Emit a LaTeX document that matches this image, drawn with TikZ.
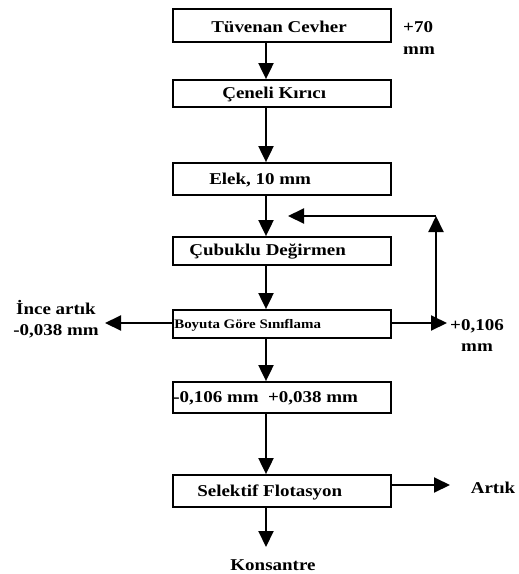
\documentclass[tikz,border=0pt]{standalone}
\usepackage{fontspec}
\setmainfont{Liberation Serif}[FakeStretch=1.15]
\usetikzlibrary{arrows.meta}
\begin{document}
\begin{tikzpicture}[x=1pt,y=-1pt,
  box/.style={draw, line width=1.8pt, minimum width=218pt, inner sep=0pt},
  txt/.style={inner sep=0pt, font=\fontsize{16.5}{19}\selectfont\bfseries},
  smalltxt/.style={inner sep=0pt, font=\fontsize{13}{15}\selectfont\bfseries},
  arr/.style={line width=2pt, -{Triangle[length=16pt,width=15pt]}},
  ln/.style={line width=2pt}]
\useasboundingbox (0,0) rectangle (519,574);
\coordinate (cx) at (266,0);
% boxes
\node[box, minimum height=33pt] (b1) at (282,25.5) {};
\node[box, minimum height=27pt] (b2) at (282,93.5) {};
\node[box, minimum height=32pt] (b3) at (282,179) {};
\node[box, minimum height=28pt] (b4) at (282,251) {};
\node[box, minimum height=28pt] (b5) at (282,324) {};
\node[box, minimum height=31pt] (b6) at (282,397.5) {};
\node[box, minimum height=32pt] (b7) at (282,491) {};
% box texts
\node[txt, anchor=west] (t1) at ([xshift=39pt,yshift=-1pt]b1.west) {Tüvenan Cevher};
\node[txt, anchor=west] (t2) at ([xshift=50pt,yshift=-1pt]b2.west) {Çeneli Kırıcı};
\node[txt, anchor=west] (t3) at ([xshift=37pt,yshift=-1pt]b3.west) {Elek, 10 mm};
\node[txt, anchor=west] (t4) at ([xshift=17pt,yshift=-1pt]b4.west) {Çubuklu Değirmen};
\node[smalltxt, anchor=west] (t5) at ([xshift=2pt,yshift=-1pt]b5.west) {Boyuta Göre Sınıflama};
\node[txt, anchor=west] (t6) at ([xshift=1pt,yshift=-1pt]b6.west) {-0,106 mm\ \ +0,038 mm};
\node[txt, anchor=west] (t7) at ([xshift=25pt,yshift=-1pt]b7.west) {Selektif Flotasyon};
% main flow
\draw[arr] (b1.south -| cx) -- (b2.north -| cx);
\draw[arr] (b2.south -| cx) -- (b3.north -| cx);
\draw[arr] (b3.south -| cx) -- (b4.north -| cx);
\draw[arr] (b4.south -| cx) -- (b5.north -| cx);
\draw[arr] (b5.south -| cx) -- (b6.north -| cx);
\draw[arr] (b6.south -| cx) -- (b7.north -| cx);
\coordinate (kend) at (266,547);
\draw[arr] (b7.south -| cx) -- (kend);
\node[txt] (kons) at (273,565) {Konsantre};
% side labels
\node[txt, anchor=west] (p70) at (403,27) {+70};
\node[txt, anchor=west] (p70mm) at (403,51) {mm};
% left output
\coordinate (lend) at (105,323);
\draw[arr] (b5.west |- lend) -- (lend);
\node[txt, align=center] (ince) at (56,319) {İnce artık\\[2pt]-0,038 mm};
% right output and recycle
\coordinate (rend) at (447,323);
\coordinate (rup) at (436,323);
\coordinate (rtop) at (436,216);
\coordinate (rback) at (288,216);
\draw[arr] (b5.east |- rend) -- (rend);
\draw[arr] (rup) -- (rtop);
\draw[arr] (rtop) -- (rback);
\node[txt, align=center] (p106) at (477,336) {+0,106\\[2pt]mm};
% artik
\coordinate (aend) at (450,485);
\draw[arr] (b7.east |- aend) -- (aend);
\node[txt] (artik) at (493,488) {Artık};
\end{tikzpicture}
\end{document}
